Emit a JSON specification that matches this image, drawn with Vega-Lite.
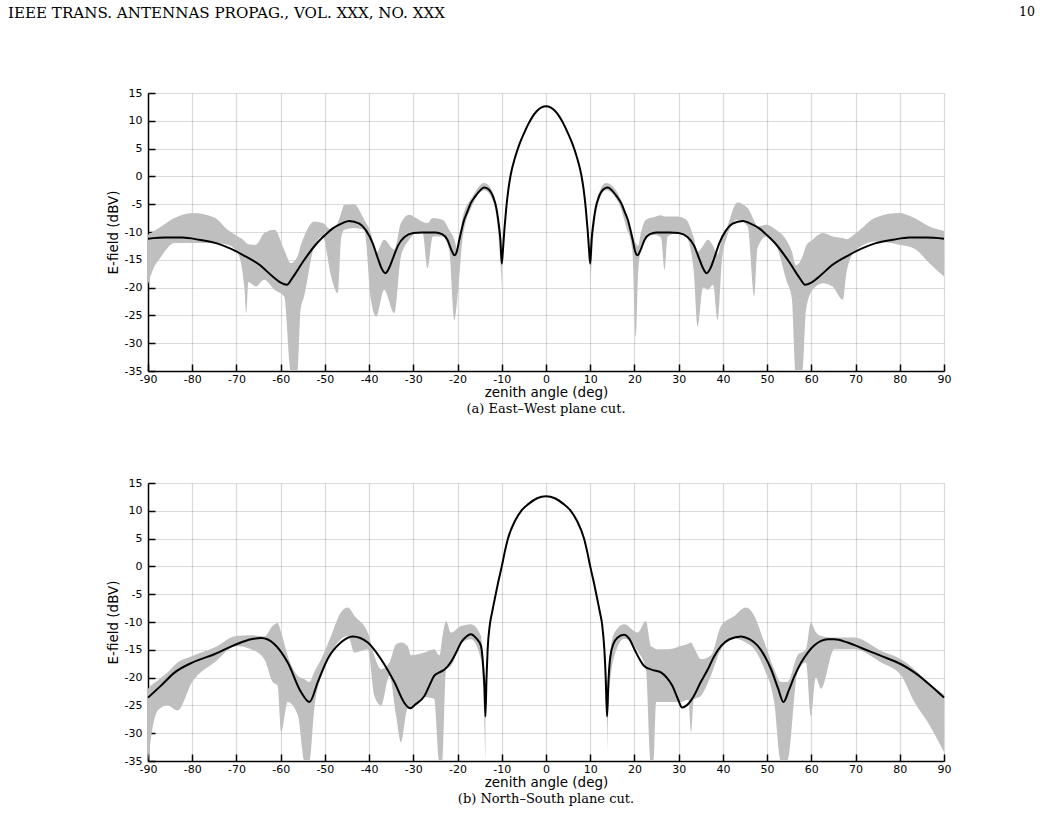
{
  "$schema": "https://vega.github.io/schema/vega-lite/v6.json",
  "background": "white",
  "padding": {"left": 8, "top": 5, "right": 0, "bottom": 10},
  "title": {
    "text": "IEEE TRANS. ANTENNAS PROPAG., VOL. XXX, NO. XXX",
    "anchor": "start", "frame": "bounds", "offset": 0, "dx": -98, "dy": 16,
    "font": "DejaVu Serif", "fontSize": 15.1, "fontWeight": "normal", "color": "#000"
  },
  "config": {
    "view": {"stroke": null},
    "axis": {
      "domainColor": "#000", "domainWidth": 1.5,
      "tickColor": "#000", "tickWidth": 1.5, "tickSize": -7,
      "labelFont": "DejaVu Sans", "labelFontSize": 11, "labelColor": "#000",
      "labelOverlap": false, "labelFlush": false, "labelSeparation": -100,
      "labelExpr": "toString(datum.value)",
      "titleFont": "DejaVu Sans", "titleFontSize": 13.5, "titleFontWeight": "normal", "titleColor": "#000",
      "gridColor": "#262626", "gridOpacity": 0.17, "gridWidth": 1.2
    },
    "axisX": {"labelPadding": 9, "titlePadding": 1},
    "axisY": {"labelPadding": 13, "titlePadding": 4, "labelOverlap": false, "labelSeparation": -100}
  },
  "datasets": {
    "ewLine": [
      {"deg": -90, "v": -11.2}, {"deg": -86, "v": -11.0}, {"deg": -82.2, "v": -11.0}, {"deg": -78.4, "v": -11.4},
      {"deg": -74.6, "v": -12.0}, {"deg": -71.6, "v": -12.9}, {"deg": -68.6, "v": -14.1}, {"deg": -64.8, "v": -15.9},
      {"deg": -61.8, "v": -18.0}, {"deg": -60, "v": -19.1}, {"deg": -58.6, "v": -19.5}, {"deg": -57.3, "v": -18.2},
      {"deg": -55, "v": -15.4}, {"deg": -52, "v": -12.2}, {"deg": -50, "v": -10.6}, {"deg": -48.3, "v": -9.4},
      {"deg": -46, "v": -8.4}, {"deg": -44.5, "v": -8.0}, {"deg": -42.2, "v": -8.5}, {"deg": -40.7, "v": -9.7},
      {"deg": -39.2, "v": -12.0}, {"deg": -38, "v": -14.8}, {"deg": -37.2, "v": -16.5}, {"deg": -36.3, "v": -17.4},
      {"deg": -35.5, "v": -16.5}, {"deg": -34.5, "v": -14.5}, {"deg": -33.5, "v": -12.5}, {"deg": -32, "v": -10.9},
      {"deg": -30, "v": -10.2}, {"deg": -28, "v": -10.1}, {"deg": -25, "v": -10.1}, {"deg": -23.5, "v": -10.4},
      {"deg": -22.3, "v": -11.4}, {"deg": -21.3, "v": -13.4}, {"deg": -20.7, "v": -14.2}, {"deg": -20.2, "v": -13.6},
      {"deg": -19.6, "v": -11.4}, {"deg": -19, "v": -9.3}, {"deg": -18.5, "v": -7.8}, {"deg": -18, "v": -6.8},
      {"deg": -17, "v": -4.8}, {"deg": -16, "v": -3.6}, {"deg": -15, "v": -2.6}, {"deg": -14, "v": -2.0},
      {"deg": -13, "v": -2.3}, {"deg": -12, "v": -3.6}, {"deg": -11.2, "v": -5.8}, {"deg": -10.7, "v": -8.5},
      {"deg": -10.3, "v": -11.5}, {"deg": -10, "v": -15.7}, {"deg": -9.7, "v": -12.8}, {"deg": -9.4, "v": -9.5},
      {"deg": -9, "v": -5.8}, {"deg": -8.5, "v": -2.3}, {"deg": -8, "v": 0.2}, {"deg": -7, "v": 3.4},
      {"deg": -6, "v": 5.8}, {"deg": -5, "v": 7.7}, {"deg": -4, "v": 9.4}, {"deg": -3, "v": 10.8},
      {"deg": -2, "v": 11.8}, {"deg": -1, "v": 12.4}, {"deg": 0, "v": 12.6},
      {"deg": 1, "v": 12.4}, {"deg": 2, "v": 11.8}, {"deg": 3, "v": 10.8}, {"deg": 4, "v": 9.4},
      {"deg": 5, "v": 7.7}, {"deg": 6, "v": 5.8}, {"deg": 7, "v": 3.4}, {"deg": 8, "v": 0.2},
      {"deg": 8.5, "v": -2.3}, {"deg": 9, "v": -5.8}, {"deg": 9.4, "v": -9.5}, {"deg": 9.7, "v": -12.8},
      {"deg": 10, "v": -15.7}, {"deg": 10.3, "v": -11.5}, {"deg": 10.7, "v": -8.5}, {"deg": 11.2, "v": -5.8},
      {"deg": 12, "v": -3.6}, {"deg": 13, "v": -2.3}, {"deg": 14, "v": -2.0}, {"deg": 15, "v": -2.6},
      {"deg": 16, "v": -3.6}, {"deg": 17, "v": -4.8}, {"deg": 18, "v": -6.8}, {"deg": 18.5, "v": -7.8},
      {"deg": 19, "v": -9.3}, {"deg": 19.6, "v": -11.4}, {"deg": 20.2, "v": -13.6}, {"deg": 20.7, "v": -14.2},
      {"deg": 21.3, "v": -13.4}, {"deg": 22.3, "v": -11.4}, {"deg": 23.5, "v": -10.4}, {"deg": 25, "v": -10.1},
      {"deg": 28, "v": -10.1}, {"deg": 30, "v": -10.2}, {"deg": 32, "v": -10.9}, {"deg": 33.5, "v": -12.5},
      {"deg": 34.5, "v": -14.5}, {"deg": 35.5, "v": -16.5}, {"deg": 36.3, "v": -17.4}, {"deg": 37.2, "v": -16.5},
      {"deg": 38, "v": -14.8}, {"deg": 39.2, "v": -12.0}, {"deg": 40.7, "v": -9.7}, {"deg": 42.2, "v": -8.5},
      {"deg": 44.5, "v": -8.0}, {"deg": 46, "v": -8.4}, {"deg": 48.3, "v": -9.4}, {"deg": 50, "v": -10.6},
      {"deg": 52, "v": -12.2}, {"deg": 55, "v": -15.4}, {"deg": 57.3, "v": -18.2}, {"deg": 58.6, "v": -19.5},
      {"deg": 60, "v": -19.1}, {"deg": 61.8, "v": -18.0}, {"deg": 64.8, "v": -15.9}, {"deg": 68.6, "v": -14.1},
      {"deg": 71.6, "v": -12.9}, {"deg": 74.6, "v": -12.0}, {"deg": 78.4, "v": -11.4}, {"deg": 82.2, "v": -11.0},
      {"deg": 86, "v": -11.0}, {"deg": 90, "v": -11.2}
    ],
    "ewBand": [
      {"seg": "L", "deg": -90, "hi": -10.5, "lo": -19.4}, {"seg": "L", "deg": -89, "hi": -10.0, "lo": -17.0},
      {"seg": "L", "deg": -87, "hi": -9.0, "lo": -14.4}, {"seg": "L", "deg": -84, "hi": -7.5, "lo": -12.0},
      {"seg": "L", "deg": -80, "hi": -6.6, "lo": -12.0}, {"seg": "L", "deg": -75, "hi": -7.4, "lo": -12.0},
      {"seg": "L", "deg": -72, "hi": -9.6, "lo": -12.3}, {"seg": "L", "deg": -69.7, "hi": -10.8, "lo": -13.8},
      {"seg": "L", "deg": -68.2, "hi": -11.6, "lo": -20.0}, {"seg": "L", "deg": -67.8, "hi": -12.0, "lo": -24.6},
      {"seg": "L", "deg": -67.3, "hi": -12.2, "lo": -19.0}, {"seg": "L", "deg": -65.6, "hi": -12.3, "lo": -19.8},
      {"seg": "L", "deg": -63.7, "hi": -10.2, "lo": -18.6}, {"seg": "L", "deg": -61.4, "hi": -9.6, "lo": -20.4},
      {"seg": "L", "deg": -59.2, "hi": -13.2, "lo": -21.6}, {"seg": "L", "deg": -57.7, "hi": -15.6, "lo": -35},
      {"seg": "L", "deg": -56.2, "hi": -14.4, "lo": -35}, {"seg": "L", "deg": -55.5, "hi": -12.5, "lo": -24.0},
      {"seg": "L", "deg": -54.7, "hi": -10.8, "lo": -21.6}, {"seg": "L", "deg": -52.4, "hi": -8.1, "lo": -12.6},
      {"seg": "L", "deg": -50.5, "hi": -8.4, "lo": -10.8}, {"seg": "L", "deg": -48.6, "hi": -9.6, "lo": -18.0},
      {"seg": "L", "deg": -47.1, "hi": -8.4, "lo": -21.0}, {"seg": "L", "deg": -46.3, "hi": -6.5, "lo": -11.0},
      {"seg": "L", "deg": -45.6, "hi": -5.1, "lo": -9.6}, {"seg": "L", "deg": -43.4, "hi": -5.0, "lo": -9.3},
      {"seg": "L", "deg": -41.1, "hi": -7.8, "lo": -9.6}, {"seg": "L", "deg": -39.6, "hi": -10.2, "lo": -22.2},
      {"seg": "L", "deg": -38.4, "hi": -13.8, "lo": -25.2}, {"seg": "L", "deg": -36.6, "hi": -11.4, "lo": -20.4},
      {"seg": "L", "deg": -34.3, "hi": -13.2, "lo": -24.6}, {"seg": "L", "deg": -32.8, "hi": -8.4, "lo": -14.4},
      {"seg": "L", "deg": -30.9, "hi": -6.9, "lo": -11.4}, {"seg": "L", "deg": -29.4, "hi": -7.5, "lo": -10.2},
      {"seg": "L", "deg": -27.9, "hi": -8.2, "lo": -10.2}, {"seg": "L", "deg": -26.8, "hi": -8.4, "lo": -16.5},
      {"seg": "L", "deg": -25.6, "hi": -7.5, "lo": -10.8}, {"seg": "L", "deg": -23.4, "hi": -7.8, "lo": -10.8},
      {"seg": "L", "deg": -21.9, "hi": -9.6, "lo": -13.2}, {"seg": "L", "deg": -20.7, "hi": -11.4, "lo": -25.8},
      {"seg": "L", "deg": -20.0, "hi": -13.2, "lo": -21.6}, {"seg": "L", "deg": -18.8, "hi": -7.2, "lo": -10.8},
      {"seg": "L", "deg": -16.6, "hi": -3.6, "lo": -5.1}, {"seg": "L", "deg": -14.0, "hi": -1.2, "lo": -2.5},
      {"seg": "L", "deg": -12.1, "hi": -2.7, "lo": -4.2}, {"seg": "L", "deg": -10.6, "hi": -9.6, "lo": -12.0},
      {"seg": "L", "deg": -10.0, "hi": -15.0, "lo": -19.8},
      {"seg": "R", "deg": 10.0, "hi": -15.0, "lo": -19.8}, {"seg": "R", "deg": 10.6, "hi": -9.6, "lo": -12.0},
      {"seg": "R", "deg": 12.1, "hi": -2.7, "lo": -4.2}, {"seg": "R", "deg": 13.6, "hi": -1.2, "lo": -2.5},
      {"seg": "R", "deg": 16.6, "hi": -3.6, "lo": -5.1}, {"seg": "R", "deg": 18.1, "hi": -6.5, "lo": -9.0},
      {"seg": "R", "deg": 19.5, "hi": -10.5, "lo": -13.0}, {"seg": "R", "deg": 20.3, "hi": -12.0, "lo": -28.8},
      {"seg": "R", "deg": 20.8, "hi": -12.5, "lo": -18.0}, {"seg": "R", "deg": 21.5, "hi": -10.0, "lo": -13.0},
      {"seg": "R", "deg": 22.6, "hi": -7.8, "lo": -10.8}, {"seg": "R", "deg": 24.5, "hi": -7.3, "lo": -10.5},
      {"seg": "R", "deg": 26.0, "hi": -7.0, "lo": -11.0}, {"seg": "R", "deg": 26.8, "hi": -7.2, "lo": -16.8},
      {"seg": "R", "deg": 27.5, "hi": -7.2, "lo": -10.8}, {"seg": "R", "deg": 29.8, "hi": -7.2, "lo": -10.2},
      {"seg": "R", "deg": 31.7, "hi": -7.8, "lo": -10.8}, {"seg": "R", "deg": 33.4, "hi": -11.0, "lo": -17.0},
      {"seg": "R", "deg": 34.3, "hi": -13.5, "lo": -27.0}, {"seg": "R", "deg": 35.5, "hi": -12.5, "lo": -20.0},
      {"seg": "R", "deg": 36.6, "hi": -11.4, "lo": -20.4}, {"seg": "R", "deg": 37.8, "hi": -12.5, "lo": -19.5},
      {"seg": "R", "deg": 38.8, "hi": -14.0, "lo": -25.8}, {"seg": "R", "deg": 39.8, "hi": -11.0, "lo": -15.0},
      {"seg": "R", "deg": 40.7, "hi": -9.6, "lo": -11.4}, {"seg": "R", "deg": 43.3, "hi": -4.7, "lo": -7.8},
      {"seg": "R", "deg": 45.6, "hi": -5.7, "lo": -9.0}, {"seg": "R", "deg": 47.1, "hi": -8.0, "lo": -21.6},
      {"seg": "R", "deg": 47.8, "hi": -9.0, "lo": -13.0}, {"seg": "R", "deg": 49.8, "hi": -8.7, "lo": -10.8},
      {"seg": "R", "deg": 52.0, "hi": -9.6, "lo": -12.3}, {"seg": "R", "deg": 54.3, "hi": -11.4, "lo": -18.6},
      {"seg": "R", "deg": 55.6, "hi": -13.5, "lo": -22.0}, {"seg": "R", "deg": 56.5, "hi": -16.0, "lo": -35},
      {"seg": "R", "deg": 58.0, "hi": -14.4, "lo": -35}, {"seg": "R", "deg": 58.8, "hi": -12.5, "lo": -24.0},
      {"seg": "R", "deg": 60.3, "hi": -11.4, "lo": -20.4}, {"seg": "R", "deg": 62.6, "hi": -10.2, "lo": -19.2},
      {"seg": "R", "deg": 64.8, "hi": -10.8, "lo": -19.8}, {"seg": "R", "deg": 67.1, "hi": -11.1, "lo": -22.2},
      {"seg": "R", "deg": 68.0, "hi": -11.3, "lo": -17.0}, {"seg": "R", "deg": 70.1, "hi": -10.2, "lo": -13.2},
      {"seg": "R", "deg": 74.6, "hi": -7.4, "lo": -11.7}, {"seg": "R", "deg": 79.9, "hi": -6.6, "lo": -12.3},
      {"seg": "R", "deg": 83.3, "hi": -7.5, "lo": -13.0}, {"seg": "R", "deg": 86.7, "hi": -9.0, "lo": -15.6},
      {"seg": "R", "deg": 90, "hi": -9.8, "lo": -18.0}
    ],
    "nsLine": [
      {"deg": -90, "v": -23.6}, {"deg": -87, "v": -21.4}, {"deg": -84, "v": -19.1}, {"deg": -80, "v": -17.3},
      {"deg": -75, "v": -15.8}, {"deg": -70, "v": -14.0}, {"deg": -66.7, "v": -13.1}, {"deg": -64.4, "v": -12.9},
      {"deg": -61.4, "v": -14.0}, {"deg": -58.4, "v": -17.3}, {"deg": -55.4, "v": -22.6}, {"deg": -53.5, "v": -24.4},
      {"deg": -51.6, "v": -20.8}, {"deg": -49.4, "v": -16.7}, {"deg": -46.4, "v": -13.7}, {"deg": -43.7, "v": -12.6},
      {"deg": -40.3, "v": -13.7}, {"deg": -37.3, "v": -16.7}, {"deg": -34.3, "v": -20.8}, {"deg": -31.8, "v": -24.8},
      {"deg": -30.7, "v": -25.5}, {"deg": -29.5, "v": -24.8}, {"deg": -27.5, "v": -23.3}, {"deg": -26.3, "v": -21.3},
      {"deg": -25.3, "v": -19.7}, {"deg": -24.0, "v": -19.0}, {"deg": -23.0, "v": -18.6}, {"deg": -21.5, "v": -17.2},
      {"deg": -20.2, "v": -15.3}, {"deg": -19.2, "v": -13.7}, {"deg": -18.0, "v": -12.6}, {"deg": -17.0, "v": -12.2},
      {"deg": -15.8, "v": -12.9}, {"deg": -14.7, "v": -14.3}, {"deg": -14.2, "v": -18.0}, {"deg": -13.9, "v": -22.0},
      {"deg": -13.7, "v": -27.0}, {"deg": -13.45, "v": -20.0}, {"deg": -13.2, "v": -15.0}, {"deg": -12.7, "v": -10.5},
      {"deg": -12.2, "v": -8.3}, {"deg": -11.5, "v": -5.5}, {"deg": -10.8, "v": -2.8}, {"deg": -10, "v": 0.0},
      {"deg": -9.3, "v": 2.7}, {"deg": -8.6, "v": 5.0}, {"deg": -7, "v": 8.2}, {"deg": -5.6, "v": 10.0},
      {"deg": -4, "v": 11.2}, {"deg": -2, "v": 12.25}, {"deg": 0, "v": 12.6},
      {"deg": 2, "v": 12.25}, {"deg": 4, "v": 11.2}, {"deg": 5.6, "v": 10.0}, {"deg": 7, "v": 8.2},
      {"deg": 8.6, "v": 5.0}, {"deg": 9.3, "v": 2.7}, {"deg": 10, "v": 0.0}, {"deg": 10.8, "v": -2.8},
      {"deg": 11.5, "v": -5.5}, {"deg": 12.2, "v": -8.3}, {"deg": 12.7, "v": -10.5}, {"deg": 13.2, "v": -15.0},
      {"deg": 13.5, "v": -20.0}, {"deg": 13.8, "v": -27.0}, {"deg": 14.1, "v": -21.0}, {"deg": 14.5, "v": -16.5},
      {"deg": 15.2, "v": -14.0}, {"deg": 16.2, "v": -12.8}, {"deg": 17.6, "v": -12.3}, {"deg": 18.8, "v": -13.0},
      {"deg": 20, "v": -14.9}, {"deg": 21.1, "v": -16.6}, {"deg": 22.2, "v": -17.9}, {"deg": 24, "v": -18.6},
      {"deg": 26, "v": -19.05}, {"deg": 27.3, "v": -20.0}, {"deg": 28.6, "v": -21.5}, {"deg": 29.8, "v": -23.8},
      {"deg": 30.8, "v": -25.4}, {"deg": 31.8, "v": -25.0}, {"deg": 33.5, "v": -23.2}, {"deg": 35, "v": -20.8},
      {"deg": 36.6, "v": -18.5}, {"deg": 38, "v": -16.2}, {"deg": 39.6, "v": -14.3}, {"deg": 41.5, "v": -13.1},
      {"deg": 44.1, "v": -12.6}, {"deg": 46, "v": -13.1}, {"deg": 47.9, "v": -14.3}, {"deg": 49.5, "v": -16.2},
      {"deg": 50.9, "v": -18.5}, {"deg": 52.5, "v": -22.0}, {"deg": 53.7, "v": -24.4}, {"deg": 54.9, "v": -22.3},
      {"deg": 56.2, "v": -19.7}, {"deg": 57.7, "v": -17.3}, {"deg": 59.2, "v": -15.5}, {"deg": 60.7, "v": -14.2},
      {"deg": 62.2, "v": -13.4}, {"deg": 63.7, "v": -13.1}, {"deg": 65.2, "v": -13.1}, {"deg": 68.2, "v": -13.7},
      {"deg": 72, "v": -14.9}, {"deg": 75.8, "v": -16.1}, {"deg": 80.3, "v": -17.6}, {"deg": 83.3, "v": -19.05},
      {"deg": 87.1, "v": -21.5}, {"deg": 90, "v": -23.6}
    ],
    "nsBand": [
      {"seg": "L", "deg": -90, "hi": -22.0, "lo": -35}, {"seg": "L", "deg": -89, "hi": -21.2, "lo": -29.2},
      {"seg": "L", "deg": -87.8, "hi": -20.5, "lo": -25.9}, {"seg": "L", "deg": -85.6, "hi": -19.1, "lo": -25.0},
      {"seg": "L", "deg": -83.3, "hi": -17.3, "lo": -25.9}, {"seg": "L", "deg": -80, "hi": -16.1, "lo": -20.8},
      {"seg": "L", "deg": -75, "hi": -14.6, "lo": -17.3}, {"seg": "L", "deg": -70, "hi": -12.5, "lo": -14.3},
      {"seg": "L", "deg": -66.7, "hi": -12.4, "lo": -14.9}, {"seg": "L", "deg": -63.7, "hi": -12.6, "lo": -16.7},
      {"seg": "L", "deg": -61.8, "hi": -10.7, "lo": -20.8}, {"seg": "L", "deg": -60.7, "hi": -10.2, "lo": -21.4},
      {"seg": "L", "deg": -59.9, "hi": -11.9, "lo": -29.8}, {"seg": "L", "deg": -58.4, "hi": -16.1, "lo": -24.4},
      {"seg": "L", "deg": -56.1, "hi": -19.7, "lo": -26.8}, {"seg": "L", "deg": -54.6, "hi": -20.3, "lo": -35},
      {"seg": "L", "deg": -53.5, "hi": -20.8, "lo": -35}, {"seg": "L", "deg": -52.4, "hi": -19.0, "lo": -25.6},
      {"seg": "L", "deg": -50.5, "hi": -16.1, "lo": -19.0}, {"seg": "L", "deg": -48.6, "hi": -12.5, "lo": -15.5},
      {"seg": "L", "deg": -46.4, "hi": -8.3, "lo": -13.1}, {"seg": "L", "deg": -44.8, "hi": -7.4, "lo": -12.5},
      {"seg": "L", "deg": -43.3, "hi": -8.9, "lo": -15.5}, {"seg": "L", "deg": -40.3, "hi": -11.9, "lo": -14.9},
      {"seg": "L", "deg": -38.8, "hi": -16.1, "lo": -23.3}, {"seg": "L", "deg": -37.3, "hi": -18.5, "lo": -25.0},
      {"seg": "L", "deg": -35.4, "hi": -17.3, "lo": -19.7}, {"seg": "L", "deg": -33.9, "hi": -14.0, "lo": -26.8},
      {"seg": "L", "deg": -32.8, "hi": -13.7, "lo": -31.6}, {"seg": "L", "deg": -31.3, "hi": -14.3, "lo": -25.6},
      {"seg": "L", "deg": -30.5, "hi": -16.0, "lo": -25.6}, {"seg": "L", "deg": -27.5, "hi": -15.5, "lo": -23.5},
      {"seg": "L", "deg": -25.3, "hi": -14.9, "lo": -23.8}, {"seg": "L", "deg": -24.1, "hi": -16.0, "lo": -35},
      {"seg": "L", "deg": -23.4, "hi": -12.5, "lo": -35}, {"seg": "L", "deg": -22.6, "hi": -9.8, "lo": -18.5},
      {"seg": "L", "deg": -21.5, "hi": -11.9, "lo": -17.9}, {"seg": "L", "deg": -19.2, "hi": -10.7, "lo": -13.9},
      {"seg": "L", "deg": -17.0, "hi": -10.4, "lo": -13.1}, {"seg": "L", "deg": -14.7, "hi": -12.5, "lo": -16.7},
      {"seg": "L", "deg": -14.2, "hi": -18.0, "lo": -22.0}, {"seg": "L", "deg": -13.7, "hi": -26.0, "lo": -35},
      {"seg": "R", "deg": 13.8, "hi": -26.0, "lo": -35}, {"seg": "R", "deg": 14.2, "hi": -18.0, "lo": -24.0},
      {"seg": "R", "deg": 15.5, "hi": -11.9, "lo": -16.0}, {"seg": "R", "deg": 17.7, "hi": -10.4, "lo": -13.0},
      {"seg": "R", "deg": 20.7, "hi": -11.9, "lo": -15.2}, {"seg": "R", "deg": 22.6, "hi": -9.8, "lo": -18.5},
      {"seg": "R", "deg": 23.7, "hi": -14.3, "lo": -35}, {"seg": "R", "deg": 24.3, "hi": -14.6, "lo": -35},
      {"seg": "R", "deg": 24.9, "hi": -14.9, "lo": -24.4}, {"seg": "R", "deg": 27.5, "hi": -14.9, "lo": -24.4},
      {"seg": "R", "deg": 30.5, "hi": -14.3, "lo": -24.4}, {"seg": "R", "deg": 32.2, "hi": -13.9, "lo": -24.0},
      {"seg": "R", "deg": 32.8, "hi": -13.7, "lo": -29.8}, {"seg": "R", "deg": 33.4, "hi": -14.5, "lo": -24.0},
      {"seg": "R", "deg": 35.1, "hi": -16.7, "lo": -23.2}, {"seg": "R", "deg": 37.3, "hi": -16.0, "lo": -19.6},
      {"seg": "R", "deg": 39.6, "hi": -10.7, "lo": -14.9}, {"seg": "R", "deg": 42.6, "hi": -8.9, "lo": -13.0},
      {"seg": "R", "deg": 45.2, "hi": -7.4, "lo": -13.7}, {"seg": "R", "deg": 47.1, "hi": -8.9, "lo": -14.9},
      {"seg": "R", "deg": 49.4, "hi": -13.7, "lo": -18.5}, {"seg": "R", "deg": 51.6, "hi": -18.5, "lo": -24.4},
      {"seg": "R", "deg": 53.1, "hi": -20.8, "lo": -35}, {"seg": "R", "deg": 54.6, "hi": -20.8, "lo": -35},
      {"seg": "R", "deg": 56.9, "hi": -16.0, "lo": -19.0}, {"seg": "R", "deg": 58.8, "hi": -14.9, "lo": -17.3},
      {"seg": "R", "deg": 59.9, "hi": -10.1, "lo": -27.0}, {"seg": "R", "deg": 61.0, "hi": -11.8, "lo": -20.0},
      {"seg": "R", "deg": 62.2, "hi": -12.5, "lo": -22.0}, {"seg": "R", "deg": 65.2, "hi": -12.8, "lo": -14.9},
      {"seg": "R", "deg": 69.7, "hi": -12.8, "lo": -14.9}, {"seg": "R", "deg": 75.8, "hi": -15.2, "lo": -17.3},
      {"seg": "R", "deg": 80.3, "hi": -16.7, "lo": -19.6}, {"seg": "R", "deg": 83.3, "hi": -18.5, "lo": -24.4},
      {"seg": "R", "deg": 86.3, "hi": -20.8, "lo": -28.0}, {"seg": "R", "deg": 90, "hi": -23.0, "lo": -33.4}
    ]
  },
  "vconcat": [
    {
      "title": {
        "text": "10", "anchor": "end", "frame": "bounds", "offset": 69, "dx": 84,
        "font": "DejaVu Serif", "fontSize": 12.5, "fontWeight": "normal", "color": "#000"
      },
      "spacing": 61,
      "vconcat": [
        {
          "width": 796, "height": 278,
          "title": {
            "text": "(a) East–West plane cut.", "orient": "bottom", "anchor": "middle", "frame": "group", "offset": 4,
            "font": "DejaVu Serif", "fontSize": 13, "fontWeight": "normal", "color": "#000"
          },
          "encoding": {
            "x": {"field": "deg", "type": "quantitative", "scale": {"domain": [-90, 90], "nice": false},
                  "axis": {"title": "zenith angle (deg)", "labelOverlap": false, "values": [-90,-80,-70,-60,-50,-40,-30,-20,-10,0,10,20,30,40,50,60,70,80,90]}}
          },
          "layer": [
            {
              "data": {"name": "ewBand"},
              "mark": {"type": "area", "color": "#bfbfbf", "opacity": 1, "interpolate": "monotone"},
              "encoding": {
                "y": {"field": "hi", "type": "quantitative", "scale": {"domain": [-35, 15], "nice": false},
                      "axis": {"title": "E-field (dBV)", "labelOverlap": false, "labelSeparation": -100, "values": [-35,-30,-25,-20,-15,-10,-5,0,5,10,15]}},
                "y2": {"field": "lo"},
                "detail": {"field": "seg"}
              }
            },
            {
              "data": {"name": "ewLine"},
              "mark": {"type": "line", "color": "#000", "strokeWidth": 2, "interpolate": "monotone"},
              "encoding": {
                "y": {"field": "v", "type": "quantitative",
                      "axis": {"title": "E-field (dBV)", "labelOverlap": false, "labelSeparation": -100, "values": [-35,-30,-25,-20,-15,-10,-5,0,5,10,15]}}
              }
            }
          ]
        },
        {
          "width": 796, "height": 278,
          "title": {
            "text": "(b) North–South plane cut.", "orient": "bottom", "anchor": "middle", "frame": "group", "offset": 4,
            "font": "DejaVu Serif", "fontSize": 13, "fontWeight": "normal", "color": "#000"
          },
          "encoding": {
            "x": {"field": "deg", "type": "quantitative", "scale": {"domain": [-90, 90], "nice": false},
                  "axis": {"title": "zenith angle (deg)", "labelOverlap": false, "values": [-90,-80,-70,-60,-50,-40,-30,-20,-10,0,10,20,30,40,50,60,70,80,90]}}
          },
          "layer": [
            {
              "data": {"name": "nsBand"},
              "mark": {"type": "area", "color": "#bfbfbf", "opacity": 1, "interpolate": "monotone"},
              "encoding": {
                "y": {"field": "hi", "type": "quantitative", "scale": {"domain": [-35, 15], "nice": false},
                      "axis": {"title": "E-field (dBV)", "labelOverlap": false, "labelSeparation": -100, "values": [-35,-30,-25,-20,-15,-10,-5,0,5,10,15]}},
                "y2": {"field": "lo"},
                "detail": {"field": "seg"}
              }
            },
            {
              "data": {"name": "nsLine"},
              "mark": {"type": "line", "color": "#000", "strokeWidth": 2, "interpolate": "monotone"},
              "encoding": {
                "y": {"field": "v", "type": "quantitative",
                      "axis": {"title": "E-field (dBV)", "labelOverlap": false, "labelSeparation": -100, "values": [-35,-30,-25,-20,-15,-10,-5,0,5,10,15]}}
              }
            }
          ]
        }
      ]
    }
  ]
}
